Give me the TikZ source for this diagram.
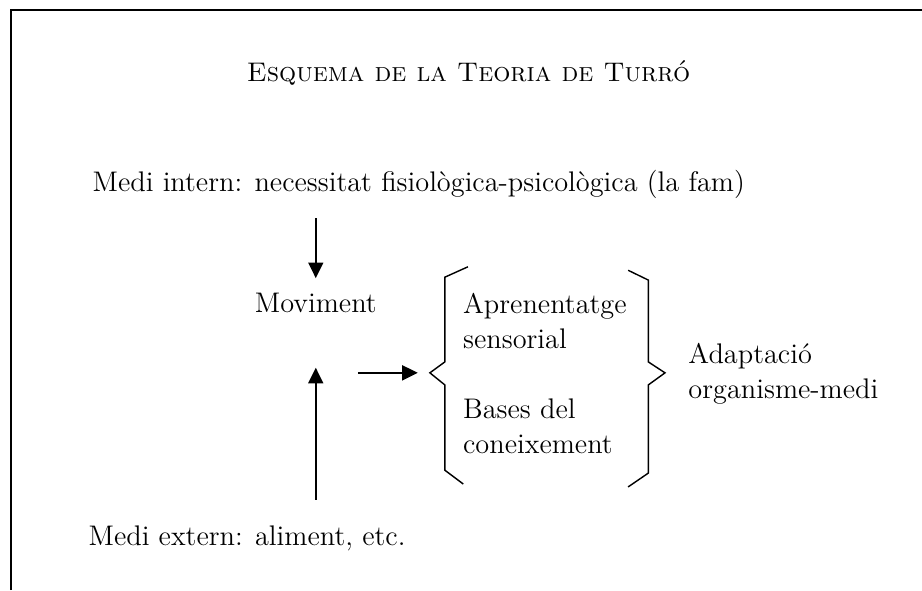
\documentclass[tikz,border=0pt]{standalone}
\usepackage{tikz}
\usetikzlibrary{arrows.meta,calc}

\begin{document}
\begin{tikzpicture}[
  texte/.style={inner sep=0pt,font=\fontsize{14pt}{17.2pt}\selectfont},
  fletxa/.style={line width=0.8pt,-{Triangle[length=0.27cm,width=0.26cm]}},
  clau/.style={line width=0.7pt,line join=miter}]
\useasboundingbox (0,0) rectangle (16,10.24);
\draw[line width=0.8pt] (0.19,0) -- (0.19,10.07) -- (16,10.07);

\node[texte,anchor=base,font=\fontsize{13.3pt}{16pt}\selectfont] (titol) at (8.13,8.82) {\textsc{Esquema de la Teoria de Turró}};
\node[texte,anchor=base west] (intern) at (1.60,6.91) {Medi intern: necessitat fisiològica-psicològica (la fam)};
\node[texte,anchor=base] (moviment) at (5.48,4.82) {Moviment};
\node[texte,anchor=north west,align=left] (aprenentatge) at (8.03,5.16) {Aprenentatge\\sensorial};
\node[texte,anchor=north west,align=left] (bases) at (8.03,3.33) {Bases del\\coneixement};
\node[texte,anchor=north west,align=left] (adaptacio) at (11.94,4.29) {Adaptació\\organisme-medi};
\node[texte,anchor=base west] (extern) at (1.53,0.78) {Medi extern: aliment, etc.};

\draw[clau] (8.12,5.61) -- (7.72,5.43) -- (7.72,3.96) -- (7.46,3.77) coordinate (clauA) -- (7.72,3.56) -- (7.72,2.08) -- (8.04,1.84);
\draw[clau] (10.90,5.55) -- (11.25,5.38) -- (11.25,3.96) -- (11.54,3.77) coordinate (clauB) -- (11.25,3.56) -- (11.25,2.03) -- (10.90,1.79);

\draw[fletxa,shorten <=0.33cm,shorten >=0.25cm] (intern.south -| moviment.north) -- (moviment.north);
\draw[fletxa,shorten <=0.44cm,shorten >=0.95cm] (extern.north -| moviment.south) -- (moviment.south);
\draw[fletxa,shorten <=0.73cm,shorten >=0.21cm] (moviment.south |- clauA) -- (clauA);
\end{tikzpicture}
\end{document}
